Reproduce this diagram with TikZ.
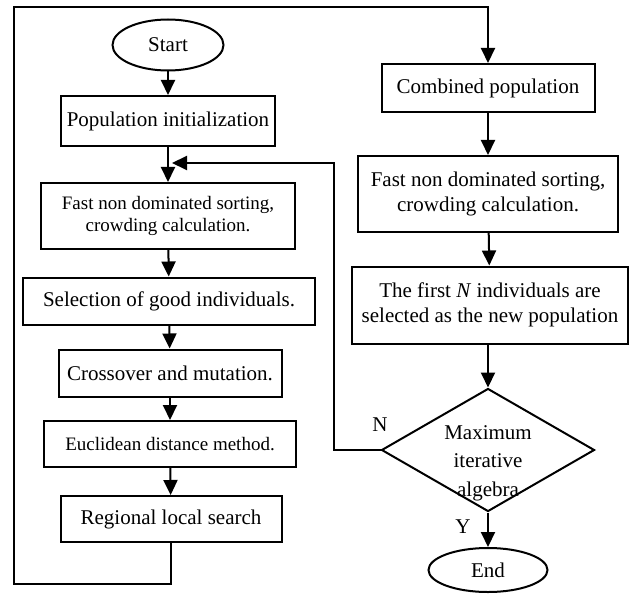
\documentclass[tikz,border=0pt]{standalone}
\usepackage{fontspec}
\setmainfont{Liberation Serif}
\usetikzlibrary{shapes.geometric,arrows.meta}

\begin{document}
\begin{tikzpicture}[x=1pt, y=-1pt, line width=2pt,
  every node/.style = {font=\fontsize{21}{25}\selectfont, align=center, inner sep=0pt},
  box/.style = {shape=rectangle, draw},
  term/.style = {shape=ellipse, draw},
  decide/.style = {shape=diamond, draw, aspect=1.73},
  smalltext/.style = {font=\fontsize{19}{22.5}\selectfont},
  flow/.style = {-{Triangle[length=15pt,width=14pt]}}]
  \useasboundingbox (0,0) rectangle (644,601);
  % left column
  \node[term, minimum width=111, minimum height=51] (start) at (168,45) {Start};
  \node[box, minimum width=214, minimum height=50] (init) at (168,121) {Population initialization};
  \node[box, smalltext, minimum width=254, minimum height=66] (sort1) at (168,216)
    {Fast non dominated sorting,\\crowding calculation.};
  \node[box, minimum width=292, minimum height=47] (select) at (169,301) {Selection of good individuals.};
  \node[box, minimum width=223, minimum height=47] (cross) at (170,373) {Crossover and mutation.};
  \node[box, smalltext, minimum width=252, minimum height=46] (dist) at (170,444) {Euclidean distance method.};
  \node[box, minimum width=221, minimum height=46] (search) at (171,519) {Regional local search};
  % right column
  \node[box, minimum width=213, minimum height=48] (combine) at (488,88) {Combined population};
  \node[box, minimum width=260, minimum height=76] (sort2) at (488,194)
    {Fast non dominated sorting,\\crowding calculation.};
  \node[box, minimum width=276, minimum height=77] (first) at (490,305)
    {The first \textit{N} individuals are\\selected as the new population};
  \node[decide, minimum width=213, minimum height=123] (check) at (488,450) {};
  \node[font=\fontsize{21}{28.5}\selectfont] (checktext) at (488,463) {Maximum\\iterative\\algebra};
  \node[term, minimum width=119, minimum height=44] (end) at (488,570) {End};
  \node (no) at (380,425) {N};
  \node (yes) at (463,527) {Y};
  % joints of the two loops
  \coordinate (bl) at (14,584);
  \coordinate (tl) at (14,7);
  \coordinate (back) at (334,450);
  \coordinate (merge) at (172,163);

  \draw[flow] (start) -- (init);
  \draw[flow] (init) -- (sort1);
  \draw[flow] (sort1) -- (select);
  \draw[flow] (select) -- (cross);
  \draw[flow] (cross) -- (dist);
  \draw[flow] (dist) -- (search);
  \draw[flow] (search.south) |- (bl) -- (tl) -| (combine.north);
  \draw[flow] (combine) -- (sort2);
  \draw[flow] (sort2) -- (first);
  \draw[flow] (first.south -| check.north) -- (check.north);
  \draw[flow] (check.west) -- (back) |- (merge);
  \draw[flow] (check.south) -- (end);
\end{tikzpicture}
\end{document}
